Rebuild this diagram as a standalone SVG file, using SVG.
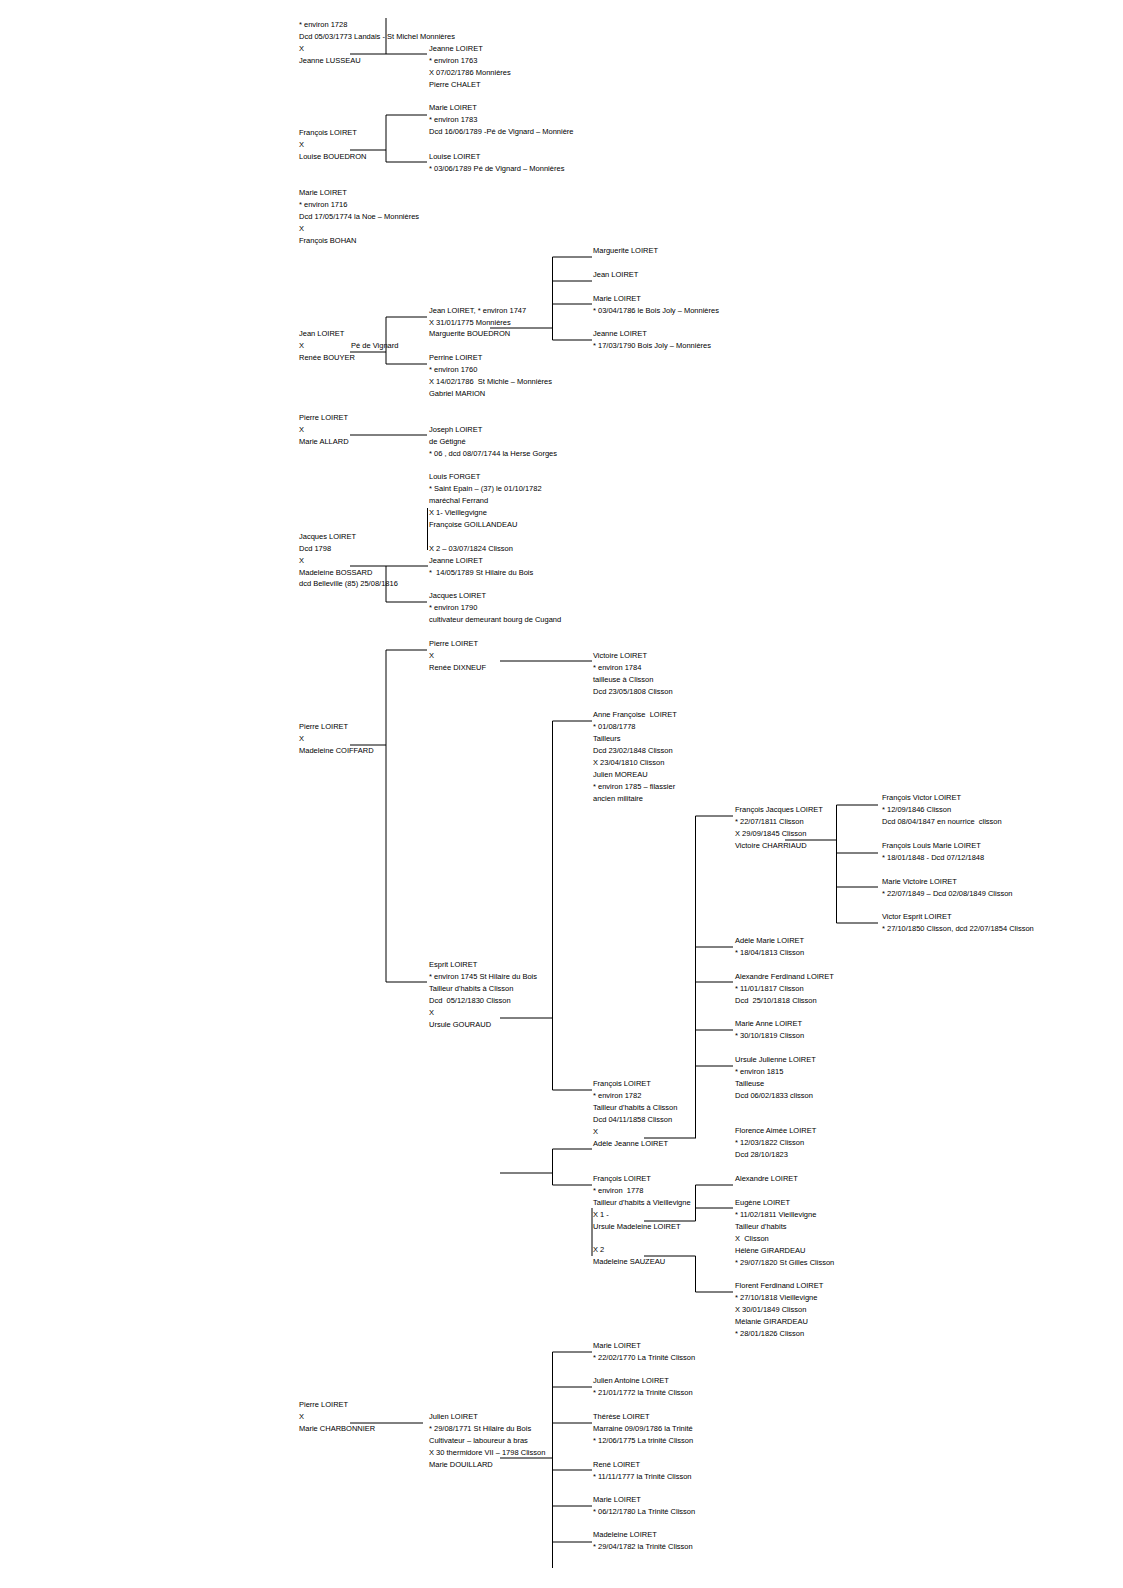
<svg xmlns="http://www.w3.org/2000/svg" width="1123" height="1588" viewBox="0 0 1123 1588">
<style>
text{font-family:"Liberation Sans",Arial,sans-serif;font-size:7.5px;fill:#000;white-space:pre}
.c line{stroke:#000;stroke-width:1}
</style>
<rect width="1123" height="1588" fill="#fff"/>
<g class="c" id="connectors">
<line x1="386" y1="18" x2="386" y2="54"/><line x1="350" y1="54" x2="427" y2="54"/>
<line x1="350" y1="150" x2="386" y2="150"/><line x1="386" y1="115" x2="386" y2="162"/><line x1="386" y1="115" x2="427" y2="115"/><line x1="386" y1="162" x2="427" y2="162"/>
<line x1="350" y1="352" x2="386" y2="352"/><line x1="386" y1="317" x2="386" y2="364"/><line x1="386" y1="317" x2="427" y2="317"/><line x1="386" y1="364" x2="427" y2="364"/>
<line x1="490" y1="328" x2="552.5" y2="328"/><line x1="552.5" y1="257" x2="552.5" y2="340"/><line x1="552.5" y1="257" x2="592" y2="257"/><line x1="552.5" y1="281" x2="592" y2="281"/><line x1="552.5" y1="304" x2="592" y2="304"/><line x1="552.5" y1="340" x2="592" y2="340"/>
<line x1="350" y1="435" x2="427" y2="435"/>
<line x1="427.5" y1="508" x2="427.5" y2="550"/>
<line x1="350" y1="566" x2="428" y2="566"/><line x1="386" y1="566" x2="386" y2="602"/><line x1="386" y1="602" x2="427" y2="602"/>
<line x1="500" y1="661" x2="592" y2="661"/>
<line x1="386" y1="650" x2="427" y2="650"/><line x1="386" y1="650" x2="386" y2="982"/><line x1="350" y1="745" x2="386" y2="745"/><line x1="386" y1="982" x2="427" y2="982"/>
<line x1="500" y1="1018" x2="552.5" y2="1018"/><line x1="552.5" y1="721" x2="552.5" y2="1090"/><line x1="552.5" y1="721" x2="592" y2="721"/><line x1="552.5" y1="1090" x2="592" y2="1090"/>
<line x1="644" y1="1138" x2="696" y2="1138"/><line x1="695.5" y1="816" x2="695.5" y2="1138"/><line x1="695.5" y1="816" x2="733" y2="816"/><line x1="695.5" y1="947" x2="733" y2="947"/><line x1="695.5" y1="982" x2="733" y2="982"/><line x1="695.5" y1="1030" x2="733" y2="1030"/><line x1="695.5" y1="1066" x2="733" y2="1066"/>
<line x1="785" y1="840" x2="836.5" y2="840"/><line x1="836.5" y1="805" x2="836.5" y2="923"/><line x1="836.5" y1="805" x2="878" y2="805"/><line x1="836.5" y1="853" x2="878" y2="853"/><line x1="836.5" y1="887" x2="878" y2="887"/><line x1="836.5" y1="923" x2="878" y2="923"/>
<line x1="500" y1="1173" x2="552.5" y2="1173"/><line x1="552.5" y1="1149" x2="552.5" y2="1185"/><line x1="552.5" y1="1149" x2="592" y2="1149"/><line x1="552.5" y1="1185" x2="592" y2="1185"/>
<line x1="592" y1="1208" x2="592" y2="1256"/>
<line x1="644" y1="1221" x2="695.5" y2="1221"/><line x1="695.5" y1="1185" x2="695.5" y2="1221"/><line x1="695.5" y1="1185" x2="733" y2="1185"/><line x1="695.5" y1="1208" x2="733" y2="1208"/>
<line x1="644" y1="1256" x2="695.5" y2="1256"/><line x1="695.5" y1="1256" x2="695.5" y2="1292"/><line x1="695.5" y1="1292" x2="733" y2="1292"/>
<line x1="350" y1="1423" x2="423" y2="1423"/>
<line x1="500" y1="1458" x2="552.5" y2="1458"/><line x1="552.5" y1="1352" x2="552.5" y2="1568"/><line x1="552.5" y1="1352" x2="592" y2="1352"/><line x1="552.5" y1="1387" x2="592" y2="1387"/><line x1="552.5" y1="1423" x2="592" y2="1423"/><line x1="552.5" y1="1470" x2="592" y2="1470"/><line x1="552.5" y1="1506" x2="592" y2="1506"/><line x1="552.5" y1="1542" x2="592" y2="1542"/>
</g>

<g id="n-pere-lusseau"><text x="299" y="27"><tspan x="299">* environ 1728</tspan><tspan x="299" dy="12">Dcd 05/03/1773 Landais - St Michel Monnières</tspan><tspan x="299" dy="12">X</tspan><tspan x="299" dy="12">Jeanne LUSSEAU</tspan></text></g>
<g id="n-jeanne-loiret"><text x="429" y="51"><tspan x="429">Jeanne LOIRET</tspan><tspan x="429" dy="12">* environ 1763</tspan><tspan x="429" dy="12">X 07/02/1786 Monnières</tspan><tspan x="429" dy="12">Pierre CHALET</tspan></text></g>
<g id="n-francois-bouedron"><text x="299" y="135"><tspan x="299">François LOIRET</tspan><tspan x="299" dy="12">X</tspan><tspan x="299" dy="12">Louise BOUEDRON</tspan></text></g>
<g id="n-marie-1783"><text x="429" y="110"><tspan x="429">Marie LOIRET</tspan><tspan x="429" dy="12">* environ 1783</tspan><tspan x="429" dy="12">Dcd 16/06/1789 -Pé de Vignard – Monnière</tspan></text></g>
<g id="n-louise-1789"><text x="429" y="158.5"><tspan x="429">Louise LOIRET</tspan><tspan x="429" dy="12">* 03/06/1789 Pé de Vignard – Monnières</tspan></text></g>
<g id="n-marie-1716"><text x="299" y="195"><tspan x="299">Marie LOIRET</tspan><tspan x="299" dy="12">* environ 1716</tspan><tspan x="299" dy="12">Dcd 17/05/1774 la Noe – Monnières</tspan><tspan x="299" dy="12">X</tspan><tspan x="299" dy="12">François BOHAN</tspan></text></g>
<g id="n-marguerite"><text x="593" y="253">Marguerite LOIRET</text></g>
<g id="n-jean-child"><text x="593" y="277">Jean LOIRET</text></g>
<g id="n-marie-1786"><text x="593" y="301"><tspan x="593">Marie LOIRET</tspan><tspan x="593" dy="12">* 03/04/1786 le Bois Joly – Monnières</tspan></text></g>
<g id="n-jeanne-1790"><text x="593" y="336"><tspan x="593">Jeanne LOIRET</tspan><tspan x="593" dy="12">* 17/03/1790 Bois Joly – Monnières</tspan></text></g>
<g id="n-jean-1747"><text x="429" y="313"><tspan x="429">Jean LOIRET, * environ 1747</tspan><tspan x="429" dy="11.5">X 31/01/1775 Monnières</tspan><tspan x="429" dy="11.5">Marguerite BOUEDRON</tspan></text></g>
<g id="n-jean-bouyer"><text x="299" y="336"><tspan x="299">Jean LOIRET</tspan><tspan x="299" dy="12">X</tspan><tspan x="299" dy="12">Renée BOUYER</tspan></text><text x="351" y="348">Pé de Vignard</text></g>
<g id="n-perrine"><text x="429" y="360"><tspan x="429">Perrine LOIRET</tspan><tspan x="429" dy="12">* environ 1760</tspan><tspan x="429" dy="12">X 14/02/1786  St Michle – Monnières</tspan><tspan x="429" dy="12">Gabriel MARION</tspan></text></g>
<g id="n-pierre-allard"><text x="299" y="420"><tspan x="299">Pierre LOIRET</tspan><tspan x="299" dy="12">X</tspan><tspan x="299" dy="12">Marie ALLARD</tspan></text></g>
<g id="n-joseph"><text x="429" y="432"><tspan x="429">Joseph LOIRET</tspan><tspan x="429" dy="12">de Gétigné</tspan><tspan x="429" dy="12">* 06 , dcd 08/07/1744 la Herse Gorges</tspan></text></g>
<g id="n-louis-forget"><text x="429" y="479"><tspan x="429">Louis FORGET</tspan><tspan x="429" dy="12">* Saint Epain – (37) le 01/10/1782</tspan><tspan x="429" dy="12">maréchal Ferrand</tspan><tspan x="429" dy="12">X 1- Vieillegvigne</tspan><tspan x="429" dy="12">Françoise GOILLANDEAU</tspan><tspan x="429" dy="24">X 2 – 03/07/1824 Clisson</tspan></text></g>
<g id="n-jeanne-1789"><text x="429" y="562.5"><tspan x="429">Jeanne LOIRET</tspan><tspan x="429" dy="12">*  14/05/1789 St Hilaire du Bois</tspan></text></g>
<g id="n-jacques-bossard"><text x="299" y="539"><tspan x="299">Jacques LOIRET</tspan><tspan x="299" dy="12">Dcd 1798</tspan><tspan x="299" dy="12">X</tspan><tspan x="299" dy="11.5">Madeleine BOSSARD</tspan><tspan x="299" dy="11.5">dcd Belleville (85) 25/08/1816</tspan></text></g>
<g id="n-jacques-1790"><text x="429" y="598"><tspan x="429">Jacques LOIRET</tspan><tspan x="429" dy="12">* environ 1790</tspan><tspan x="429" dy="12">cultivateur demeurant bourg de Cugand</tspan></text></g>
<g id="n-pierre-dixneuf"><text x="429" y="646"><tspan x="429">Pierre LOIRET</tspan><tspan x="429" dy="12">X</tspan><tspan x="429" dy="12">Renée DIXNEUF</tspan></text></g>
<g id="n-victoire-1784"><text x="593" y="658"><tspan x="593">Victoire LOIRET</tspan><tspan x="593" dy="12">* environ 1784</tspan><tspan x="593" dy="12">tailleuse à Clisson</tspan><tspan x="593" dy="12">Dcd 23/05/1808 Clisson</tspan></text></g>
<g id="n-pierre-coiffard"><text x="299" y="729"><tspan x="299">Pierre LOIRET</tspan><tspan x="299" dy="12">X</tspan><tspan x="299" dy="12">Madeleine COIFFARD</tspan></text></g>
<g id="n-anne-francoise"><text x="593" y="717"><tspan x="593">Anne Françoise  LOIRET</tspan><tspan x="593" dy="12">* 01/08/1778</tspan><tspan x="593" dy="12">Tailleurs</tspan><tspan x="593" dy="12">Dcd 23/02/1848 Clisson</tspan><tspan x="593" dy="12">X 23/04/1810 Clisson</tspan><tspan x="593" dy="12">Julien MOREAU</tspan><tspan x="593" dy="12">* environ 1785 – filassier</tspan><tspan x="593" dy="12">ancien militaire</tspan></text></g>
<g id="n-francois-jacques"><text x="735" y="812"><tspan x="735">François Jacques LOIRET</tspan><tspan x="735" dy="12">* 22/07/1811 Clisson</tspan><tspan x="735" dy="12">X 29/09/1845 Clisson</tspan><tspan x="735" dy="12">Victoire CHARRIAUD</tspan></text></g>
<g id="n-francois-victor"><text x="882" y="800"><tspan x="882">François Victor LOIRET</tspan><tspan x="882" dy="12">* 12/09/1846 Clisson</tspan><tspan x="882" dy="12">Dcd 08/04/1847 en nourrice  clisson</tspan></text></g>
<g id="n-francois-louis"><text x="882" y="848"><tspan x="882">François Louis Marie LOIRET</tspan><tspan x="882" dy="12">* 18/01/1848 - Dcd 07/12/1848</tspan></text></g>
<g id="n-marie-victoire"><text x="882" y="884"><tspan x="882">Marie Victoire LOIRET</tspan><tspan x="882" dy="12">* 22/07/1849 – Dcd 02/08/1849 Clisson</tspan></text></g>
<g id="n-victor-esprit"><text x="882" y="919"><tspan x="882">Victor Esprit LOIRET</tspan><tspan x="882" dy="12">* 27/10/1850 Clisson, dcd 22/07/1854 Clisson</tspan></text></g>
<g id="n-adele-marie"><text x="735" y="943"><tspan x="735">Adèle Marie LOIRET</tspan><tspan x="735" dy="12">* 18/04/1813 Clisson</tspan></text></g>
<g id="n-alexandre-ferdinand"><text x="735" y="979"><tspan x="735">Alexandre Ferdinand LOIRET</tspan><tspan x="735" dy="12">* 11/01/1817 Clisson</tspan><tspan x="735" dy="12">Dcd  25/10/1818 Clisson</tspan></text></g>
<g id="n-marie-anne"><text x="735" y="1026"><tspan x="735">Marie Anne LOIRET</tspan><tspan x="735" dy="12">* 30/10/1819 Clisson</tspan></text></g>
<g id="n-ursule-julienne"><text x="735" y="1062"><tspan x="735">Ursule Julienne LOIRET</tspan><tspan x="735" dy="12">* environ 1815</tspan><tspan x="735" dy="12">Tailleuse</tspan><tspan x="735" dy="12">Dcd 06/02/1833 clisson</tspan></text></g>
<g id="n-florence"><text x="735" y="1133"><tspan x="735">Florence Aimée LOIRET</tspan><tspan x="735" dy="12">* 12/03/1822 Clisson</tspan><tspan x="735" dy="12">Dcd 28/10/1823</tspan></text></g>
<g id="n-esprit"><text x="429" y="967"><tspan x="429">Esprit LOIRET</tspan><tspan x="429" dy="12">* environ 1745 St Hilaire du Bois</tspan><tspan x="429" dy="12">Tailleur d'habits à Clisson</tspan><tspan x="429" dy="12">Dcd  05/12/1830 Clisson</tspan><tspan x="429" dy="12">X</tspan><tspan x="429" dy="11.5">Ursule GOURAUD</tspan></text></g>
<g id="n-francois-1782"><text x="593" y="1086"><tspan x="593">François LOIRET</tspan><tspan x="593" dy="12">* environ 1782</tspan><tspan x="593" dy="12">Tailleur d'habits à Clisson</tspan><tspan x="593" dy="12">Dcd 04/11/1858 Clisson</tspan><tspan x="593" dy="12">X</tspan><tspan x="593" dy="11.5">Adèle Jeanne LOIRET</tspan></text></g>
<g id="n-francois-1778"><text x="593" y="1181"><tspan x="593">François LOIRET</tspan><tspan x="593" dy="12">* environ  1778</tspan><tspan x="593" dy="12">Tailleur d'habits à Vieillevigne</tspan><tspan x="593" dy="12">X 1 -</tspan><tspan x="593" dy="12">Ursule Madeleine LOIRET</tspan><tspan x="593" dy="23">X 2</tspan><tspan x="593" dy="12">Madeleine SAUZEAU</tspan></text></g>
<g id="n-alexandre"><text x="735" y="1181">Alexandre LOIRET</text></g>
<g id="n-eugene"><text x="735" y="1205"><tspan x="735">Eugène LOIRET</tspan><tspan x="735" dy="12">* 11/02/1811 Vieillevigne</tspan><tspan x="735" dy="12">Tailleur d'habits</tspan><tspan x="735" dy="12">X  Clisson</tspan><tspan x="735" dy="12">Hélène GIRARDEAU</tspan><tspan x="735" dy="12">* 29/07/1820 St Gilles Clisson</tspan></text></g>
<g id="n-florent"><text x="735" y="1288"><tspan x="735">Florent Ferdinand LOIRET</tspan><tspan x="735" dy="12">* 27/10/1818 Vieillevigne</tspan><tspan x="735" dy="12">X 30/01/1849 Clisson</tspan><tspan x="735" dy="12">Mélanie GIRARDEAU</tspan><tspan x="735" dy="12">* 28/01/1826 Clisson</tspan></text></g>
<g id="n-pierre-charbonnier"><text x="299" y="1407"><tspan x="299">Pierre LOIRET</tspan><tspan x="299" dy="12">X</tspan><tspan x="299" dy="12">Marie CHARBONNIER</tspan></text></g>
<g id="n-julien"><text x="429" y="1419"><tspan x="429">Julien LOIRET</tspan><tspan x="429" dy="12">* 29/08/1771 St Hilaire du Bois</tspan><tspan x="429" dy="12">Cultivateur – laboureur à bras</tspan><tspan x="429" dy="12">X 30 thermidore VII – 1798 Clisson</tspan><tspan x="429" dy="12">Marie DOUILLARD</tspan></text></g>
<g id="n-marie-1770"><text x="593" y="1348"><tspan x="593">Marie LOIRET</tspan><tspan x="593" dy="12">* 22/02/1770 La Trinité Clisson</tspan></text></g>
<g id="n-julien-antoine"><text x="593" y="1383"><tspan x="593">Julien Antoine LOIRET</tspan><tspan x="593" dy="12">* 21/01/1772 la Trinité Clisson</tspan></text></g>
<g id="n-therese"><text x="593" y="1419"><tspan x="593">Thérèse LOIRET</tspan><tspan x="593" dy="12">Marraine 09/09/1786 la Trinité</tspan><tspan x="593" dy="12">* 12/06/1775 La trinité Clisson</tspan></text></g>
<g id="n-rene"><text x="593" y="1467"><tspan x="593">René LOIRET</tspan><tspan x="593" dy="12">* 11/11/1777 la Trinité Clisson</tspan></text></g>
<g id="n-marie-1780"><text x="593" y="1502"><tspan x="593">Marie LOIRET</tspan><tspan x="593" dy="12">* 06/12/1780 La Trinité Clisson</tspan></text></g>
<g id="n-madeleine-1782"><text x="593" y="1537"><tspan x="593">Madeleine LOIRET</tspan><tspan x="593" dy="12">* 29/04/1782 la Trinité Clisson</tspan></text></g>
</svg>
